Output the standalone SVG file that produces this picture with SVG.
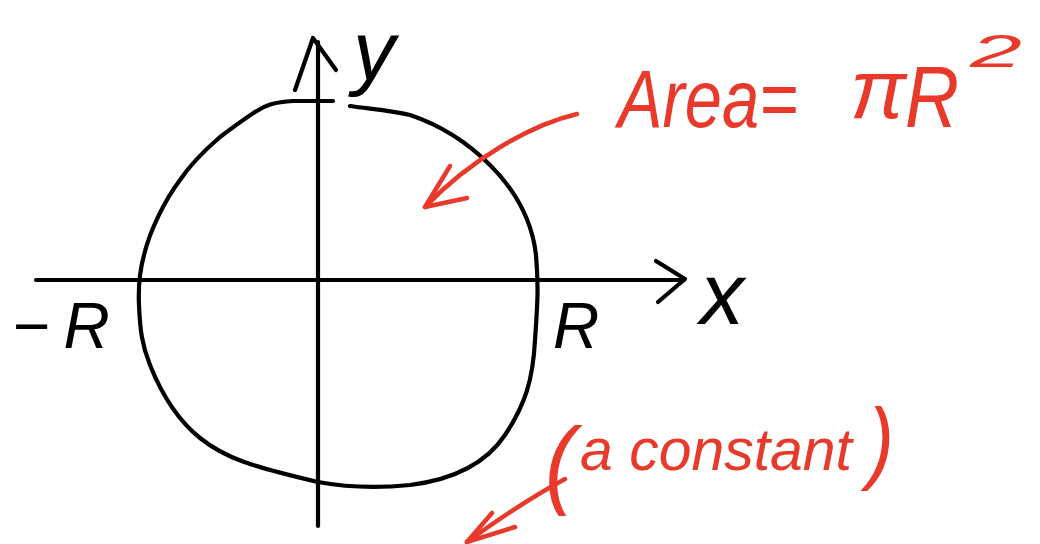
<svg xmlns="http://www.w3.org/2000/svg" width="1040" height="544" viewBox="0 0 1040 544">
<style>
.ink{fill:none;stroke:#000;stroke-width:4.2;stroke-linecap:round;stroke-linejoin:round}
.red{fill:none;stroke:#e8392a;stroke-width:4.5;stroke-linecap:round;stroke-linejoin:round}
.lb{font-family:"Liberation Sans","DejaVu Sans",sans-serif;font-style:italic;fill:#000}
.rt{font-family:"Liberation Sans","DejaVu Sans",sans-serif;font-style:italic;fill:#e8392a}
</style>
<rect width="1040" height="544" fill="#fff"/>
<g id="circle">
<path class="ink" d="M333 101 L293 101 C275 102 265 105 255 112 C243 120 232 128 220 137 C205 150 190 165 180 180 C165 200 150 230 144 255 C140 270 138 285 139 305 C140 330 142 345 150 365 C160 390 175 418 200 438 C225 458 250 466 318 482 C345 487 380 488 410 485 C450 480 485 465 505 435 C525 405 533 380 535 340 C537 310 539 290 536 255 C532 220 515 190 490 165 C465 140 440 125 410 115 C390 110 370 109 350 106"/>
</g>
<g id="connectors">
<g id="y-axis">
<path class="ink" d="M318 526 L318 42"/>
<path class="ink" d="M295 90 L313 38 L336 70"/>
</g>
<g id="x-axis">
<path class="ink" d="M36 280 L684 280"/>
<path class="ink" d="M656 261 L685 279 L658 302"/>
</g>
<g id="area-arrow">
<path class="red" d="M577 114 C530 125 470 160 425 207"/>
<path class="red" d="M450 166 L425 207 L467 198"/>
</g>
<g id="constant-arrow">
<path class="red" d="M565 479 C530 498 500 518 467 542"/>
<path class="red" d="M492 513 L467 542 L515 527"/>
</g>
</g>
<g id="label-y"><text class="lb" x="353" y="80" font-size="84">y</text></g>
<g id="label-x"><text class="lb" x="700" y="324" font-size="88">x</text></g>
<g id="label-neg-r"><text class="lb" x="12" y="348" font-size="64">−<tspan dx="14">R</tspan></text></g>
<g id="label-r"><text class="lb" x="553" y="348" font-size="64">R</text></g>
<g id="label-area">
<text class="rt" x="618" y="127" font-size="82" textLength="180" lengthAdjust="spacingAndGlyphs">Area=</text>
<text class="rt" x="850" y="118" font-size="84">π</text>
<text class="rt" x="905" y="127" font-size="88" textLength="54" lengthAdjust="spacingAndGlyphs">R</text>
<text class="rt" x="970" y="67" font-size="46" textLength="52" lengthAdjust="spacingAndGlyphs">2</text>
</g>
<g id="label-constant">
<text class="rt" transform="translate(545 496) scale(1.5 1.65)" x="0" y="0" font-size="60">(</text>
<text class="rt" x="580" y="470" font-size="60" textLength="272" lengthAdjust="spacingAndGlyphs">a constant</text>
<text class="rt" transform="translate(868 472) scale(1.3 1.5)" x="0" y="0" font-size="60">)</text>
</g>
</svg>
